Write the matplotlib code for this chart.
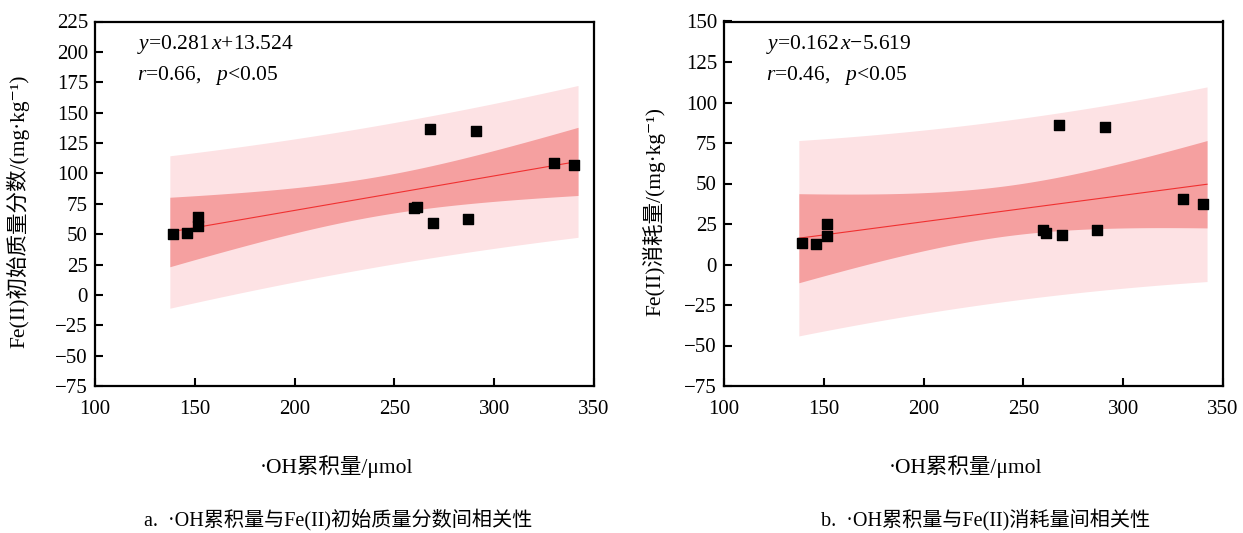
import numpy as np
import matplotlib
matplotlib.use("Agg")
from matplotlib import pyplot as plt

plt.rcParams['font.family'] = ['Liberation Serif', 'Noto Sans CJK SC', 'DejaVu Serif']
plt.rcParams['mathtext.fontset'] = 'custom'
plt.rcParams['mathtext.rm'] = 'Liberation Serif'
plt.rcParams['mathtext.it'] = 'Liberation Serif:italic'
plt.rcParams['axes.unicode_minus'] = True

# ·OH accumulation (umol), shared by both panels
oh = np.array([139.1, 146.0, 151.6, 151.4, 259.7, 261.1, 268.0, 269.4, 287.0, 291.1, 329.8, 340.1])
# Fe(II) initial mass fraction (mg/kg)
fe_init = np.array([50.4, 51.0, 64.1, 56.7, 71.4, 72.3, 136.4, 59.4, 62.2, 135.0, 108.5, 107.2])
# Fe(II) consumption (mg/kg)
fe_cons = np.array([13.2, 12.4, 24.8, 17.5, 21.6, 19.3, 86.1, 18.3, 21.4, 85.1, 40.2, 37.5])

eq_a = [r'$y$=0.281$\,x$+13.524', r'$r$=0.66,   $p$<0.05']
eq_b = [r'$y$=0.162$\,x$−5.619', r'$r$=0.46,   $p$<0.05']

ylab_a = 'Fe(II)初始质量分数/(mg·kg⁻¹)'
ylab_b = 'Fe(II)消耗量/(mg·kg⁻¹)'
xlab = '·OH累积量/μmol'
cap_a = 'a.  ·OH累积量与Fe(II)初始质量分数间相关性'
cap_b = 'b.  ·OH累积量与Fe(II)消耗量间相关性'

T975 = 2.228  # t(0.975, df=10)


def draw(ax, x, y, yticks, ylabel, eq, ylab_x):
    n = len(x)
    k, b = np.polyfit(x, y, 1)
    res = y - (k * x + b)
    s = np.sqrt(np.sum(res ** 2) / (n - 2))
    xm = x.mean()
    sxx = np.sum((x - xm) ** 2)
    xs = np.linspace(x.min() - 1.6, x.max() + 1.9, 200)
    ys = k * xs + b
    ci = T975 * s * np.sqrt(1 / n + (xs - xm) ** 2 / sxx)
    pi = T975 * s * np.sqrt(1 + 1 / n + (xs - xm) ** 2 / sxx)
    ax.fill_between(xs, ys - pi, ys + pi, color='#fde2e4', lw=0, zorder=1)
    ax.fill_between(xs, ys - ci, ys + ci, color='#f5a0a0', lw=0, zorder=2)
    ax.plot(xs, ys, color='#f03030', lw=0.8, zorder=3)
    ax.scatter(x, y, marker='s', s=50, color='black', zorder=4)

    ax.set_xlim(100, 350)
    ax.set_ylim(yticks[0], yticks[-1])
    ax.set_xticks(np.arange(100, 351, 50))
    ax.set_yticks(yticks)
    ax.tick_params(direction='in', length=6, width=1.5, labelsize=15)
    ax.tick_params(axis='x', pad=10)
    ax.tick_params(axis='y', pad=5)
    for sp in ax.spines.values():
        sp.set_linewidth(1.6)
    ax.set_ylabel(ylabel, fontsize=15.5)
    ax.yaxis.set_label_coords(ylab_x, 0.48)
    ax.set_xlabel(xlab, fontsize=15.5)
    ax.xaxis.set_label_coords(0.484, -0.19)
    ax.text(0.084, 0.938, eq[0], transform=ax.transAxes, fontsize=15.5, va='center')
    ax.text(0.084, 0.853, eq[1], transform=ax.transAxes, fontsize=15.5, va='center')


fig = plt.figure(figsize=(12.43, 5.33), dpi=100)
ax1 = fig.add_axes([95 / 1243, 1 - 386 / 533, 499 / 1243, 364.5 / 533])
ax2 = fig.add_axes([724 / 1243, 1 - 386 / 533, 499 / 1243, 364.5 / 533])

draw(ax1, oh, fe_init, np.arange(-75, 226, 25), ylab_a, eq_a, -0.132)
draw(ax2, oh, fe_cons, np.arange(-75, 151, 25), ylab_b, eq_b, -0.118)

fig.text(338 / 1243, 1 - 520 / 533, cap_a, ha='center', va='center', fontsize=14.5)
fig.text(986 / 1243, 1 - 520 / 533, cap_b, ha='center', va='center', fontsize=14.5)

fig.savefig('out.png', dpi=100)
